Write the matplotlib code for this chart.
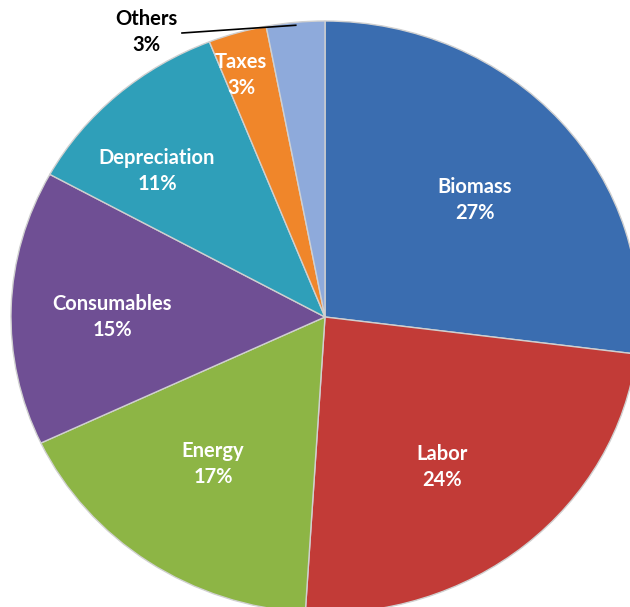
import matplotlib
matplotlib.use("Agg")
import matplotlib.pyplot as plt
import numpy as np

categories = ["Biomass", "Labor", "Energy", "Consumables", "Depreciation", "Taxes", "Others"]
values = [27, 24, 17, 15, 11, 3, 3]
pct_labels = ["27%", "24%", "17%", "15%", "11%", "3%", "3%"]
colors = ["#3a6db0", "#c23b37", "#8db545", "#6f4f94", "#2f9fb9", "#f0862a", "#8eaadb"]

W, H = 630, 607
cx, cy = 325, 317          # pie centre in pixels (from top-left)
rx, ry = 314, 296          # horizontal / vertical radius in pixels

# label centres in pixels (layout)
label_px = [(475, 200), (442, 467), (213, 464), (112, 317), (157, 171), (241, 75), (146, 32)]


def to_data(px, py):
    return (px - cx) / rx, (cy - py) / ry


fig = plt.figure(figsize=(W / 100, H / 100), dpi=100)
ax = fig.add_axes([0, 0, 1, 1])
wedges, _ = ax.pie(values, colors=colors, startangle=90, counterclock=False,
                   radius=1, center=(0, 0),
                   wedgeprops=dict(edgecolor="#d0d0d0", linewidth=1.0))
ax.set_aspect("auto")
ax.set_xlim(-cx / rx, (W - cx) / rx)
ax.set_ylim(-(H - cy) / ry, cy / ry)
ax.axis("off")

font = ["Lato", "DejaVu Sans"]
for i in range(len(categories)):
    x, y = to_data(*label_px[i])
    col = "black" if categories[i] == "Others" else "white"
    ax.text(x, y, f"{categories[i]}\n{pct_labels[i]}", color=col,
            ha="center", va="center", fontsize=14.5, fontweight="bold",
            family=font, linespacing=1.35)

# leader line for Others
w = wedges[-1]
mid = np.deg2rad((w.theta1 + w.theta2) / 2)
ex, ey = 0.99 * np.cos(mid), 0.99 * np.sin(mid)
sx, sy = to_data(182, 33)
ax.plot([sx, ex], [sy, ey], color="black", lw=1.2)

fig.savefig("out.png", dpi=100)
